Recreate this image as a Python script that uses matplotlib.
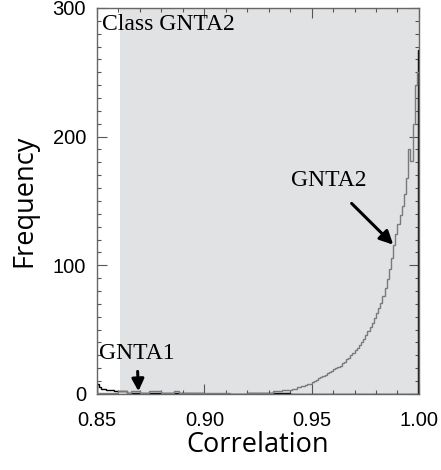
import numpy as np
import matplotlib.pyplot as plt
from matplotlib.ticker import MultipleLocator

# GNTA2 histogram: 0.002-wide bins up to 0.94, 0.001-wide after that
edges2 = np.round(np.concatenate([np.arange(0.850, 0.940, 0.002),
                                  np.arange(0.940, 1.0001, 0.001)]), 4)
gnta2 = [1, 1, 1, 1, 1,
         2, 2, 1, 2, 2, 1, 1, 2, 2, 2, 1, 1, 1, 2, 1, 1, 1, 1, 1, 1,
         1, 1, 1, 1, 1, 1, 0, 0, 0, 0, 1, 1, 1, 1, 1, 1, 2, 2, 3, 3,
         3, 4, 4, 5, 5, 6, 6, 7, 8, 8,
         9, 10, 11, 12, 13, 14, 15, 16, 17, 18,
         19, 20, 21, 22, 24, 25, 27, 28, 30, 32,
         34, 36, 38, 40, 43, 46, 49, 52, 55, 59,
         63, 67, 71, 76, 82, 89, 97, 106, 116, 124,
         132, 139, 146, 155, 168, 190, 181, 210, 240, 250]

# GNTA1 (black) has its own uneven bins
edges1 = [0.850, 0.851, 0.852, 0.854, 0.856, 0.858, 0.860, 0.864, 0.870,
          0.880, 0.900, 0.920, 0.940, 0.960, 0.980, 0.9996, 1.000]
gnta1 = [8, 5, 4, 3, 3, 2, 2, 1, 1, 1, 0, 1, 0, 0, 0, 267]

shade_start = 0.8607

fig = plt.figure(figsize=(4.41, 4.70), dpi=100)
ax = fig.add_axes([0.22, 0.162, 0.73, 0.821])

ax.axvspan(shade_start, 1.0, color='#e1e2e4', lw=0, zorder=0)
ax.stairs(gnta1, edges1, color='black', lw=1.0, zorder=2)
ax.stairs(gnta2, edges2, color='#7a7a7a', lw=1.0, zorder=3)

ax.set_xlim(0.85, 1.0)
ax.set_ylim(0, 300)
ax.set_xticks([0.85, 0.90, 0.95, 1.00])
ax.set_xticklabels(['0.85', '0.90', '0.95', '1.00'])
ax.set_yticks([0, 100, 200, 300])
ax.xaxis.set_minor_locator(MultipleLocator(0.01))
ax.yaxis.set_minor_locator(MultipleLocator(10))
ax.tick_params(which='both', direction='in', top=True, right=True,
               color='#555555', labelsize=14.5, width=0.8)
ax.tick_params(which='major', length=7)
ax.tick_params(axis='x', which='major', pad=12)
ax.tick_params(axis='y', which='major', pad=8)
ax.tick_params(which='minor', length=3)
for lab in ax.get_xticklabels() + ax.get_yticklabels():
    lab.set_family('Liberation Sans')
for s in ax.spines.values():
    s.set_color('#666666')
    s.set_linewidth(1.0)

ax.set_xlabel('Correlation', family='Open Sans', fontsize=19.5, labelpad=1)
ax.set_ylabel('Frequency', family='Open Sans', fontsize=19.5, labelpad=10)

serif = 'Liberation Serif'
ax.text(0.8525, 287, 'Class GNTA2', family=serif, fontsize=17, va='center')
ax.annotate('GNTA2', xy=(0.988, 116), xytext=(0.9578, 166),
            family=serif, fontsize=17, ha='center', va='center',
            arrowprops=dict(arrowstyle='-|>', color='black', lw=2.2,
                            mutation_scale=20, shrinkA=10, shrinkB=0))
ax.annotate('GNTA1', xy=(0.8693, 2), xytext=(0.8686, 31),
            family=serif, fontsize=17, ha='center', va='center',
            arrowprops=dict(arrowstyle='-|>', color='black', lw=2.2,
                            mutation_scale=18, shrinkA=3, shrinkB=0))

fig.savefig('out.png', dpi=100)
